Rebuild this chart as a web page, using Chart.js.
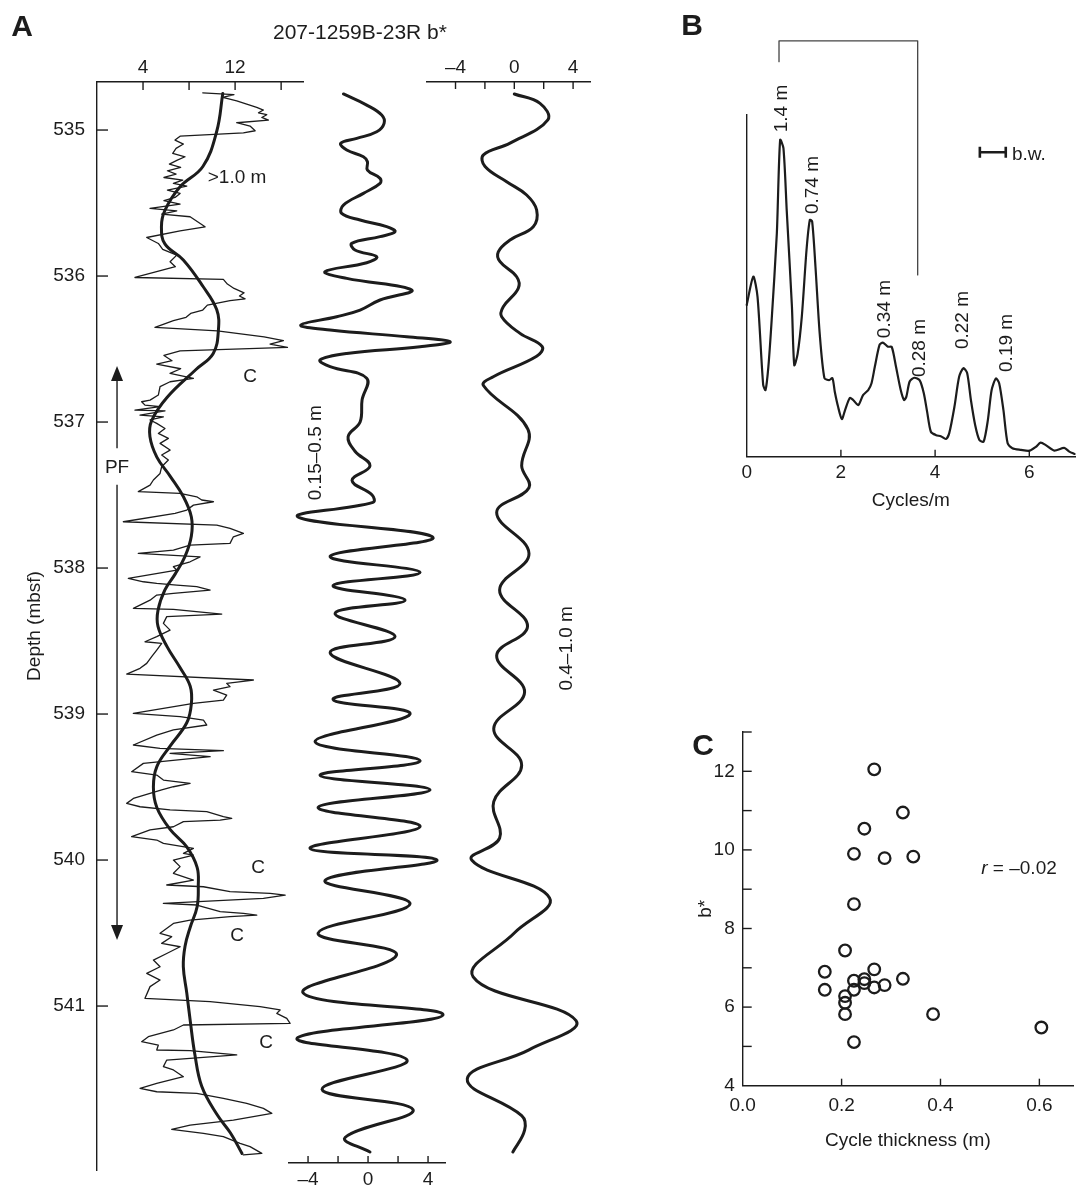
<!DOCTYPE html>
<html>
<head>
<meta charset="utf-8">
<title>207-1259B-23R b*</title>
<script src="https://cdn.jsdelivr.net/npm/chart.js@4.4.1/dist/chart.umd.min.js"></script>
<style>
body { margin: 0; background: #fff; }
#page { position: relative; width: 1083px; height: 1197px; overflow: hidden;
        font-family: 'Liberation Sans', Arial, Helvetica, sans-serif; color: #1c1c1c; }
#page canvas { position: absolute; }
.lbl { position: absolute; white-space: nowrap; line-height: 1; transform: translate(-50%, -50%); font-size: 19px; }
.big { font-size: 30px; font-weight: bold; }
</style>
</head>
<body>
<div id="page">
  <canvas id="trackRaw" width="320" height="1197" style="left:0;top:0"></canvas>
  <canvas id="trackShort" width="180" height="1197" style="left:280px;top:0"></canvas>
  <canvas id="trackLong" width="180" height="1197" style="left:420px;top:0"></canvas>
  <canvas id="spectrum" width="383" height="530" style="left:700px;top:0"></canvas>
  <canvas id="scatter" width="403" height="470" style="left:680px;top:700px"></canvas>
  <div class="lbl big" style="left:22px;top:26px">A</div>
  <div class="lbl big" style="left:692px;top:25px">B</div>
  <div class="lbl big" style="left:703px;top:745px">C</div>
  <div class="lbl" style="left:360px;top:31px;font-size:21px">207-1259B-23R b*</div>
  <div class="lbl" style="left:1019px;top:867px"><i>r</i> = &ndash;0.02</div>
</div>
<script>
/* ---- panel A: depth tracks ---- */
const depthTicks = [535, 536, 537, 538, 539, 540, 541];
const rawTickMarks = [4, 8, 12, 16];
const rawTickLabels = [4, 12];
const filtTickMarks = [-4, -2, 0, 2, 4];
const filtTickLabels = [-4, 0, 4];

// raw b* (thin line)
const rawDepth = [534.745,534.757,534.777,534.800,534.822,534.845,534.863,534.882,534.895,534.914,534.932,534.950,534.973,535.005,535.019,535.042,
  535.069,535.096,535.126,535.160,535.183,535.206,535.233,535.256,535.279,535.302,535.325,535.343,535.366,535.384,535.411,535.434,535.462,535.484,
  535.507,535.537,535.553,535.576,535.594,535.663,535.690,535.736,535.777,535.818,535.857,535.902,535.936,536.010,536.023,536.055,536.085,536.115,
  536.137,536.156,536.169,536.199,536.233,536.256,536.283,536.306,536.352,536.375,536.416,536.443,536.466,536.489,536.512,536.544,536.580,536.603,
  536.635,536.667,536.701,536.724,536.758,536.815,536.850,536.861,536.884,536.895,536.918,536.923,536.952,536.964,536.986,537.009,537.044,537.078,
  537.112,537.146,537.192,537.226,537.260,537.306,537.352,537.397,537.432,537.477,537.489,537.512,537.534,537.546,537.569,537.603,537.626,537.683,
  537.706,537.728,537.763,537.786,537.831,537.843,537.877,537.900,537.923,537.957,537.991,538.014,538.071,538.094,538.105,538.117,538.128,538.151,
  538.174,538.185,538.220,538.276,538.283,538.315,538.333,538.379,538.425,538.470,538.505,538.516,538.562,538.607,538.653,538.687,538.726,538.767,
  538.790,538.813,538.836,538.870,538.904,538.927,538.996,539.018,539.041,539.075,539.109,539.144,539.212,539.235,539.251,539.269,539.292,539.338,
  539.395,539.418,539.452,539.475,539.498,539.520,539.578,539.612,539.635,539.657,539.669,539.703,539.714,539.726,539.737,539.772,539.794,539.840,
  539.863,539.886,539.920,539.954,539.966,540.000,540.045,540.091,540.137,540.171,540.183,540.217,540.228,540.240,540.262,540.297,540.308,540.354,
  540.365,540.377,540.388,540.411,540.434,540.502,540.525,540.571,540.594,540.640,540.685,540.731,540.776,540.822,540.867,540.947,540.970,541.004,
  541.027,541.050,541.084,541.119,541.130,541.164,541.210,541.244,541.267,541.301,541.306,541.335,541.370,541.415,541.438,541.484,541.530,541.564,
  541.587,541.598,541.632,541.667,541.701,541.735,541.781,541.815,541.845,541.872,541.895,541.940,541.963,542.009,542.020];
const rawB = [9.19,11.9,10.93,12.14,13.01,13.88,14.46,14.03,14.75,14.32,14.90,12.14,13.30,13.74,12.72,7.22,
  6.78,7.51,6.87,6.58,7.65,6.98,6.29,7.27,6.12,6.87,5.82,7.45,6.64,7.80,6.12,7.22,6.78,5.82,
  7.22,4.61,6.93,5.62,8.09,9.39,7.22,4.32,5.33,5.71,6.93,6.35,6.81,3.30,10.98,11.33,11.91,12.78,
  12.38,12.87,11.56,9.59,9.19,8.14,7.74,6.64,5.04,10.46,14.52,16.20,15.04,16.55,7.22,5.82,6.52,5.19,
  7.27,6.35,8.38,6.35,5.48,5.33,4.61,3.88,4.17,5.48,3.30,5.91,3.74,5.77,4.61,5.19,5.91,5.33,
  6.20,5.48,6.35,5.62,6.20,5.62,5.48,4.90,4.61,3.59,7.22,8.67,9.10,10.12,8.38,7.80,6.78,2.29,
  10.41,11.56,12.72,11.85,11.56,8.09,6.64,3.59,8.96,8.09,6.64,6.93,2.72,4.03,5.19,6.93,8.67,9.83,
  6.64,5.19,4.61,3.16,6.64,10.84,6.06,5.77,6.35,5.19,4.17,5.62,5.19,4.75,4.32,3.74,2.58,13.59,
  11.27,11.56,10.12,11.27,10.98,8.38,3.16,7.22,9.25,9.54,6.64,5.19,3.16,5.48,10.98,6.35,9.83,4.03,
  3.01,5.19,5.77,8.09,6.64,5.62,3.16,2.58,3.74,6.35,9.54,10.98,11.71,10.70,7.51,6.64,4.61,3.01,
  5.19,5.77,8.38,7.51,8.38,6.64,7.22,6.64,8.38,6.06,9.25,11.56,15.04,16.35,14.46,5.77,8.67,10.70,
  12.72,13.88,11.56,8.09,6.64,5.48,6.49,5.62,7.22,6.06,4.90,5.48,4.32,5.48,4.61,4.17,9.83,14.17,
  15.91,15.62,16.49,16.78,7.51,6.64,4.46,3.88,5.33,5.19,8.09,12.14,6.06,5.77,6.64,7.51,5.19,3.74,
  5.19,8.67,10.98,13.01,14.46,15.19,11.85,8.09,6.49,9.25,10.98,12.43,13.30,14.32,12.72];

// >1.0 m component (thick line over the raw data)
const smoothDepth = [534.75,535.01,535.25,535.39,535.55,535.66,535.78,535.89,536.07,536.23,536.37,536.53,536.64,536.83,536.99,537.10,537.24,
  537.37,537.51,537.65,537.78,537.92,538.04,538.15,538.29,538.40,538.54,538.68,538.81,538.93,539.06,539.22,539.36,539.50,539.64,539.79,
  539.91,540.05,540.18,540.32,540.46,540.59,540.73,540.91,541.10,541.33,541.55,541.74,541.87,542.01];
const smoothB = [10.93,10.4,9.2,7.2,5.9,5.6,5.9,7.5,9.2,10.4,10.55,10.1,8.6,6.1,4.75,4.6,5.2,
  6.35,7.5,8.2,8.2,7.65,6.8,5.9,5.3,5.3,6.1,7.2,8.1,8.2,7.8,6.35,5.2,4.9,5.2,6.35,
  7.8,8.7,8.8,8.7,8.1,7.65,7.5,7.8,8.1,8.5,9.1,10.4,11.6,12.6];

// 0.15-0.5 m band
const shortDepth = [534.753,534.829,534.897,534.954,535.012,535.057,535.091,535.137,535.183,535.217,535.274,535.331,535.365,535.434,535.514,
  535.571,535.616,535.662,535.696,535.730,535.776,535.822,535.868,535.909,535.970,536.016,536.096,536.164,536.233,536.279,536.336,536.370,
  536.416,536.450,536.484,536.530,536.575,536.621,536.700,536.85,537.00,537.10,537.20,537.30,537.40,537.50,537.55,537.65,537.79,537.92,538.03,
  538.12,538.22,538.31,538.47,538.58,538.79,538.90,539.00,539.19,539.32,539.42,539.52,539.64,539.77,539.92,540.00,540.14,540.30,540.50,540.65,
  540.91,541.06,541.22,541.37,541.57,541.71,541.90,542.00];
const shortB = [-1.64,-0.09,0.91,1.07,0.58,-0.75,-1.82,-1.42,-0.31,-0.04,-0.04,0.80,0.80,-0.31,-1.64,
  -1.76,-0.53,1.24,1.80,0.80,-1.09,-0.87,0.58,-0.09,-2.87,-1.42,2.91,0.80,-0.53,-2.09,-4.49,-2.53,
  2.58,5.47,3.47,-1.42,-3.20,-2.53,-0.09,-0.4,-0.53,-1.33,-0.87,0.13,-1.07,0.27,0.33,-4.67,4.33,-2.53,3.47,
  -2.33,2.47,-2.2,1.8,-2.53,2.13,-2.33,2.8,-3.53,3.47,-3.2,4.13,-3.33,3.47,-3.87,4.6,-2.87,2.8,-3.33,1.9,
  -4.33,5.0,-4.73,2.6,-3.07,3.0,-1.53,0.13];

// 0.4-1.0 m band
const longDepth = [534.753,534.817,534.93,535.09,535.17,535.25,535.354,535.445,535.548,535.662,535.753,535.834,535.902,536.005,536.084,
  536.21,536.279,536.393,536.484,536.55,536.69,536.75,537.05,537.30,537.45,537.62,537.90,538.15,538.40,538.60,538.85,539.10,539.35,539.60,
  539.85,540.00,540.26,540.50,540.80,541.10,541.30,541.50,541.75,541.85,542.00];
const longB = [0.0,1.75,2.28,-0.29,-2.1,-1.99,-0.52,0.84,1.52,1.29,-0.29,-1.09,-0.97,0.16,0.27,
  -0.75,-0.86,0.39,1.9,1.52,-1.43,-2.1,0.93,0.5,1.0,-1.2,1.0,-1.0,0.9,-1.2,0.7,-1.4,0.5,-1.4,
  -1.0,-2.9,2.4,0.0,-2.8,4.2,1.0,-3.2,0.5,0.7,-0.1];

/* ---- panel B: spectrum ---- */
const specFreq = [0,0.14,0.23,0.35,0.40,0.46,0.53,0.64,0.71,0.78,0.85,0.96,1.01,1.08,1.17,1.27,1.34,1.39,1.46,1.55,
  1.65,1.75,1.82,1.87,1.94,2.02,2.09,2.19,2.26,2.37,2.47,2.58,2.65,2.72,2.82,2.89,3.00,3.08,3.17,3.27,
  3.34,3.39,3.46,3.56,3.67,3.76,3.83,3.91,4.02,4.12,4.23,4.30,4.41,4.51,4.60,4.68,4.76,4.85,4.94,5.03,
  5.12,5.20,5.29,5.36,5.45,5.54,5.64,5.82,6.00,6.14,6.24,6.35,6.53,6.74,6.85,6.96];
const specPow = [0.444,0.527,0.468,0.21,0.195,0.263,0.40,0.654,0.927,0.903,0.72,0.44,0.268,0.30,0.41,0.605,0.693,0.688,0.556,0.36,
  0.23,0.224,0.23,0.19,0.146,0.11,0.137,0.172,0.166,0.151,0.18,0.195,0.215,0.263,0.327,0.334,0.322,0.321,0.263,0.195,
  0.166,0.176,0.22,0.231,0.224,0.186,0.132,0.073,0.063,0.06,0.052,0.069,0.146,0.234,0.259,0.245,0.166,0.093,0.049,0.044,
  0.107,0.195,0.229,0.215,0.137,0.039,0.025,0.02,0.017,0.029,0.041,0.034,0.018,0.026,0.015,0.008];
const freqTicks = [0, 2, 4, 6];
const freqTickMarks = [2, 4, 6];
const peakNames = ['1.4 m', '0.74 m', '0.34 m', '0.28 m', '0.22 m', '0.19 m'];
const peakFreq = [0.75, 1.40, 2.94, 3.68, 4.59, 5.52];
const peakLabelPow = [1.019, 0.795, 0.432, 0.318, 0.40, 0.333];
const bandFreq = [0.686, 0.686, 3.63, 3.63];     // bracket over 1.4 m ... 0.28 m
const bandPow = [1.156, 1.217, 1.217, 0.532];
const bwFreq = [4.95, 5.50];
const bwPow = 0.891;

/* ---- panel C: cycle thickness vs b* ---- */
const thickness = [0.266,0.324,0.246,0.225,0.287,0.345,0.225,0.207,0.166,0.166,0.266,0.225,0.246,0.246,0.225,0.266,0.287,0.324,0.207,0.207,0.207,0.385,0.604,0.225];
const cycleB = [12.05,10.95,10.54,9.90,9.79,9.83,8.62,7.44,6.90,6.44,6.96,6.67,6.71,6.61,6.44,6.50,6.56,6.72,6.28,6.11,5.82,5.82,5.48,5.11];
const thickTicks = [0, 0.2, 0.4, 0.6];
const thickTickMarks = [0.2, 0.4, 0.6];
const bTicks = [4, 6, 8, 10, 12];
const bTickMarks = [5, 6, 7, 8, 9, 10, 11, 12, 13];

const INK = '#1c1c1c';
const FONT = "'Liberation Sans', Arial, Helvetica, sans-serif";
Chart.defaults.font.family = FONT;
Chart.defaults.color = INK;

const pair = (xs, ys) => xs.map((x, i) => ({ x: x, y: ys[i] }));
const dash = v => (v < 0 ? '\u2013' + Math.abs(v) : String(v));
const fixTicks = vals => s => { s.ticks = vals.map(v => ({ value: v })); };

// tick marks drawn pointing into the plot
const inTicks = {
  id: 'inTicks',
  afterDraw(chart, args, opts) {
    const ctx = chart.ctx;
    ctx.save();
    ctx.strokeStyle = INK;
    ctx.lineWidth = 1.4;
    (opts.list || []).forEach(t => {
      const s = chart.scales[t.scale];
      t.values.forEach(v => {
        const p = s.getPixelForValue(v);
        ctx.beginPath();
        if (s.isHorizontal()) {
          const y0 = s.position === 'top' ? s.bottom : s.top;
          const dir = s.position === 'top' ? 1 : -1;
          ctx.moveTo(p, y0);
          ctx.lineTo(p, y0 + dir * t.len);
        } else {
          ctx.moveTo(s.right, p);
          ctx.lineTo(s.right + t.len, p);
        }
        ctx.stroke();
      });
    });
    ctx.restore();
  }
};

// text placed in data units
const notes = {
  id: 'notes',
  afterDatasetsDraw(chart, args, opts) {
    const ctx = chart.ctx, sx = chart.scales.x, sy = chart.scales.y;
    (opts.items || []).forEach(n => {
      ctx.save();
      ctx.fillStyle = INK;
      ctx.font = (n.size || 19) + 'px ' + FONT;
      ctx.textAlign = n.align || 'center';
      ctx.textBaseline = 'middle';
      ctx.translate(sx.getPixelForValue(n.x), sy.getPixelForValue(n.y));
      if (n.rot) ctx.rotate(n.rot);
      ctx.fillText(n.text, 0, 0);
      ctx.restore();
    });
  }
};

// PF arrow and the bandwidth bar
const marks = {
  id: 'marks',
  afterDatasetsDraw(chart, args, opts) {
    const ctx = chart.ctx, sx = chart.scales.x, sy = chart.scales.y;
    ctx.save();
    ctx.strokeStyle = INK;
    ctx.fillStyle = INK;
    if (opts.arrow) {
      const a = opts.arrow;
      const px = sx.getPixelForValue(a.x);
      const top = sy.getPixelForValue(a.from), bot = sy.getPixelForValue(a.to);
      const g1 = sy.getPixelForValue(a.gap[0]), g2 = sy.getPixelForValue(a.gap[1]);
      ctx.lineWidth = 1.4;
      ctx.beginPath();
      ctx.moveTo(px, top + 10); ctx.lineTo(px, g1);
      ctx.moveTo(px, g2); ctx.lineTo(px, bot - 10);
      ctx.stroke();
      ctx.beginPath();
      ctx.moveTo(px, top); ctx.lineTo(px - 6, top + 15); ctx.lineTo(px + 6, top + 15); ctx.closePath();
      ctx.moveTo(px, bot); ctx.lineTo(px - 6, bot - 15); ctx.lineTo(px + 6, bot - 15); ctx.closePath();
      ctx.fill();
    }
    if (opts.bar) {
      const b = opts.bar;
      const x1 = sx.getPixelForValue(b.x[0]), x2 = sx.getPixelForValue(b.x[1]), y = sy.getPixelForValue(b.y);
      ctx.lineWidth = 2.6;
      ctx.beginPath();
      ctx.moveTo(x1, y); ctx.lineTo(x2, y);
      ctx.moveTo(x1, y - 5.5); ctx.lineTo(x1, y + 5.5);
      ctx.moveTo(x2, y - 5.5); ctx.lineTo(x2, y + 5.5);
      ctx.stroke();
    }
    ctx.restore();
  }
};
Chart.register(inTicks, notes, marks);

const tickFont = { family: FONT, size: 19 };
const border = { color: INK, width: 1.4 };
const noGrid = { display: false, drawTicks: false };
const quiet = { legend: { display: false }, tooltip: { enabled: false } };
const lineSet = (data, width, tension) => ({
  data: data, showLine: true, borderColor: INK, borderWidth: width, pointRadius: 0,
  tension: tension, clip: false, borderJoinStyle: 'round', borderCapStyle: 'round'
});
const base = { responsive: false, animation: false, events: [], elements: { line: { capBezierPoints: false } } };

// track 1: raw b* with the >1.0 m component
new Chart(document.getElementById('trackRaw'), {
  type: 'scatter',
  data: { datasets: [lineSet(pair(rawB, rawDepth), 1.3, 0), lineSet(pair(smoothB, smoothDepth), 3, 0.4)] },
  options: Object.assign({}, base, {
    layout: { padding: { left: 0, top: 0, right: 17, bottom: 27 } },
    plugins: Object.assign({}, quiet, {
      inTicks: { list: [{ scale: 'x', values: rawTickMarks, len: 8 }, { scale: 'y', values: depthTicks, len: 11 }] },
      notes: { items: [
        { text: '>1.0 m', x: 12.17, y: 535.33 },
        { text: 'C', x: 13.3, y: 536.69 },
        { text: 'C', x: 14.0, y: 540.05 },
        { text: 'C', x: 12.17, y: 540.52 },
        { text: 'C', x: 14.7, y: 541.25 },
        { text: 'PF', x: 1.74, y: 537.31 }
      ] },
      marks: { arrow: { x: 1.74, from: 536.616, to: 540.548, gap: [537.18, 537.43] } }
    }),
    scales: {
      x: { type: 'linear', position: 'top', min: 0, max: 17.9,
           afterFit: s => { s.height = 82; }, afterBuildTicks: fixTicks(rawTickLabels),
           grid: noGrid, border: border,
           ticks: { font: tickFont, padding: 3, maxRotation: 0, autoSkip: false } },
      y: { type: 'linear', reverse: true, min: 534.671, max: 542.123,
           afterFit: s => { s.width = 97; }, afterBuildTicks: fixTicks(depthTicks),
           grid: noGrid, border: border,
           ticks: { font: tickFont, padding: 12, autoSkip: false },
           title: { display: true, text: 'Depth (mbsf)', font: tickFont, padding: { top: 23, bottom: 0 } } }
    }
  })
});

// track 2: 0.15-0.5 m band, axis at the bottom
new Chart(document.getElementById('trackShort'), {
  type: 'scatter',
  data: { datasets: [lineSet(pair(shortB, shortDepth), 3, 0.4)] },
  options: Object.assign({}, base, {
    layout: { padding: { left: 9, top: 82, right: 15, bottom: 0 } },
    plugins: Object.assign({}, quiet, {
      inTicks: { list: [{ scale: 'x', values: filtTickMarks, len: 7 }] },
      notes: { items: [{ text: '0.15\u20130.5 m', x: -3.47, y: 537.21, rot: -Math.PI / 2 }] }
    }),
    scales: {
      x: { type: 'linear', position: 'bottom', min: -5.27, max: 5.13,
           afterFit: s => { s.height = 34; }, afterBuildTicks: fixTicks(filtTickLabels),
           grid: noGrid, border: border,
           ticks: { font: tickFont, padding: 5, maxRotation: 0, autoSkip: false, callback: dash } },
      y: { type: 'linear', display: false, reverse: true, min: 534.671, max: 542.075 }
    }
  })
});

// track 3: 0.4-1.0 m band, axis at the top
new Chart(document.getElementById('trackLong'), {
  type: 'scatter',
  data: { datasets: [lineSet(pair(longB, longDepth), 3, 0.4)] },
  options: Object.assign({}, base, {
    layout: { padding: { left: 7, top: 0, right: 10, bottom: 27 } },
    plugins: Object.assign({}, quiet, {
      inTicks: { list: [{ scale: 'x', values: filtTickMarks, len: 7 }] },
      notes: { items: [{ text: '0.4\u20131.0 m', x: 3.58, y: 538.55, rot: -Math.PI / 2 }] }
    }),
    scales: {
      x: { type: 'linear', position: 'top', min: -5.94, max: 5.15,
           afterFit: s => { s.height = 82; }, afterBuildTicks: fixTicks(filtTickLabels),
           grid: noGrid, border: border,
           ticks: { font: tickFont, padding: 3, maxRotation: 0, autoSkip: false, callback: dash } },
      y: { type: 'linear', display: false, reverse: true, min: 534.671, max: 542.123 }
    }
  })
});

// panel B: power spectrum
new Chart(document.getElementById('spectrum'), {
  type: 'scatter',
  data: { datasets: [
    lineSet(pair(specFreq, specPow), 2.2, 0.25),
    Object.assign(lineSet(pair(bandFreq, bandPow), 1.3, 0), { borderColor: '#444' })
  ] },
  options: Object.assign({}, base, {
    layout: { padding: { left: 0, top: 115, right: 8, bottom: 0 } },
    plugins: Object.assign({}, quiet, {
      inTicks: { list: [{ scale: 'x', values: freqTickMarks, len: 7 }] },
      notes: { items: peakNames.map((t, i) => ({ text: t, x: peakFreq[i], y: peakLabelPow[i], rot: -Math.PI / 2 }))
        .concat([{ text: 'b.w.', x: 5.63, y: 0.885, align: 'left' }]) },
      marks: { bar: { x: bwFreq, y: bwPow } }
    }),
    scales: {
      x: { type: 'linear', min: 0, max: 6.97,
           afterFit: s => { s.height = 73.3; }, afterBuildTicks: fixTicks(freqTicks),
           grid: noGrid, border: border,
           ticks: { font: tickFont, padding: 5, maxRotation: 0, autoSkip: false },
           title: { display: true, text: 'Cycles/m', font: tickFont, padding: { top: 0, bottom: 18 } } },
      y: { type: 'linear', min: 0, max: 1, afterFit: s => { s.width = 46.7; },
           grid: noGrid, border: border, ticks: { display: false } }
    }
  })
});

// panel C: b* against cycle thickness
new Chart(document.getElementById('scatter'), {
  type: 'scatter',
  data: { datasets: [{
    data: pair(thickness, cycleB), pointRadius: 5.8, pointBorderWidth: 2.3,
    pointBorderColor: INK, pointBackgroundColor: 'rgba(255,255,255,0)', clip: false
  }] },
  options: Object.assign({}, base, {
    layout: { padding: { left: 0, top: 32, right: 10, bottom: 0 } },
    plugins: Object.assign({}, quiet, {
      inTicks: { list: [{ scale: 'x', values: thickTickMarks, len: 7 }, { scale: 'y', values: bTickMarks, len: 9 }] }
    }),
    scales: {
      x: { type: 'linear', min: 0, max: 0.668,
           afterFit: s => { s.height = 84.3; }, afterBuildTicks: fixTicks(thickTicks),
           grid: noGrid, border: border,
           ticks: { font: tickFont, padding: 9, maxRotation: 0, autoSkip: false, callback: v => v.toFixed(1) },
           title: { display: true, text: 'Cycle thickness (m)', font: tickFont, padding: { top: 0, bottom: 18 } } },
      y: { type: 'linear', min: 4, max: 13,
           afterFit: s => { s.width = 62.7; }, afterBuildTicks: fixTicks(bTicks),
           grid: noGrid, border: border,
           ticks: { font: tickFont, padding: 8, autoSkip: false },
           title: { display: true, text: 'b*', font: tickFont, padding: { top: 14, bottom: 0 } } }
    }
  })
});
</script>
</body>
</html>
